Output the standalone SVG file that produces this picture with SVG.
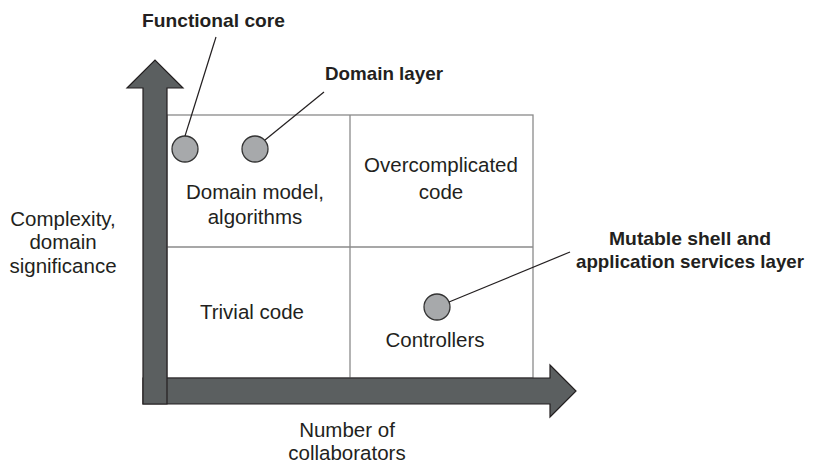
<svg xmlns="http://www.w3.org/2000/svg" width="816" height="464" viewBox="0 0 816 464">
  <style>
    .lbl { font-family: "Liberation Sans", Arial, sans-serif; font-size: 20.5px; fill: #231f20; text-anchor: middle; }
    .bold { font-family: "Liberation Sans", Arial, sans-serif; font-size: 19px; font-weight: bold; fill: #231f20; }
    .grid { fill: none; stroke: #8a8a8a; stroke-width: 1.3; }
    .axis { fill: #5b5f60; stroke: #231f20; stroke-width: 1.2; stroke-linejoin: miter; }
    .dot { fill: #a7a9ab; stroke: #333333; stroke-width: 1.3; }
    .lead { stroke: #231f20; stroke-width: 1.2; fill: none; }
  </style>
  <rect width="816" height="464" fill="#ffffff"/>

  <g id="grid">
    <rect class="grid" x="167" y="115" width="366" height="263"/>
    <line class="grid" x1="350" y1="115" x2="350" y2="378"/>
    <line class="grid" x1="167" y1="247" x2="533" y2="247"/>
  </g>

  <g id="x-axis">
    <polygon class="axis" points="143,378 550,378 550,365 576,391 550,417 550,404 143,404"/>
  </g>
  <g id="y-axis">
    <polygon class="axis" points="143,404 143,88 127,88 155,60 183,88 167,88 167,404"/>
  </g>

  <g id="quadrant-domain-model">
    <text class="lbl" x="255" y="199">Domain model,</text>
    <text class="lbl" x="255" y="224">algorithms</text>
  </g>
  <g id="quadrant-overcomplicated">
    <text class="lbl" x="441" y="172">Overcomplicated</text>
    <text class="lbl" x="441" y="199">code</text>
  </g>
  <g id="quadrant-trivial">
    <text class="lbl" x="252" y="319">Trivial code</text>
  </g>
  <g id="quadrant-controllers">
    <text class="lbl" x="435" y="347">Controllers</text>
  </g>

  <g id="y-axis-label">
    <text class="lbl" x="63" y="226">Complexity,</text>
    <text class="lbl" x="63" y="249">domain</text>
    <text class="lbl" x="63" y="273">significance</text>
  </g>
  <g id="x-axis-label">
    <text class="lbl" x="347" y="437">Number of</text>
    <text class="lbl" x="347" y="460">collaborators</text>
  </g>

  <g id="functional-core">
    <circle class="dot" cx="185" cy="149" r="13"/>
    <text class="bold" x="142" y="27" textLength="143" lengthAdjust="spacingAndGlyphs">Functional core</text>
  </g>
  <g id="domain-layer">
    <circle class="dot" cx="255" cy="149" r="13"/>
    <text class="bold" x="325" y="80" textLength="118" lengthAdjust="spacingAndGlyphs">Domain layer</text>
  </g>
  <g id="mutable-shell">
    <circle class="dot" cx="437" cy="307" r="13"/>
    <text class="bold" x="690" y="245" text-anchor="middle" textLength="162" lengthAdjust="spacingAndGlyphs">Mutable shell and</text>
    <text class="bold" x="690" y="268" text-anchor="middle" textLength="228" lengthAdjust="spacingAndGlyphs">application services layer</text>
  </g>

  <g id="connectors">
    <line class="lead" x1="185" y1="136" x2="216" y2="37"/>
    <line class="lead" x1="265" y1="140" x2="324" y2="92"/>
    <line class="lead" x1="449" y1="302" x2="570" y2="252"/>
  </g>
</svg>
